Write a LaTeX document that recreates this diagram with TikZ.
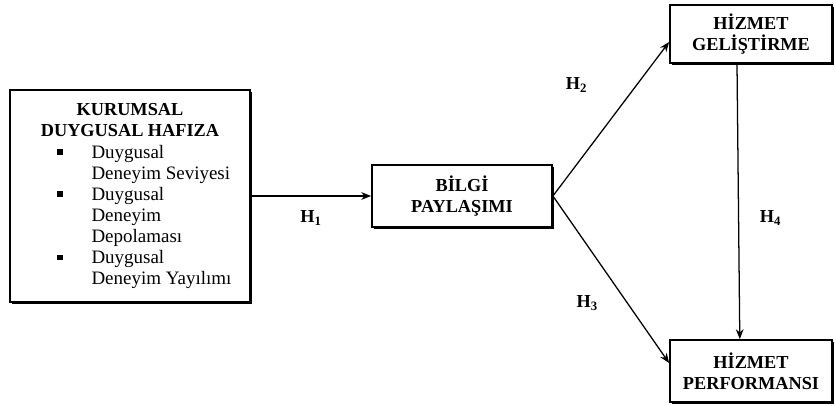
\documentclass[tikz,border=0pt]{standalone}
\usepackage{fontspec}
\setmainfont{Liberation Serif}
\usetikzlibrary{arrows.meta, shadows}

\begin{document}
\begin{tikzpicture}[
        ->,
        >={Stealth[length=7pt, width=5.5pt]},
        every node/.style={font=\fontsize{13.5}{15}\selectfont},
        kutu/.style={draw, line width=1.3pt, fill=white, align=center,
            font=\fontsize{13}{15}\selectfont\bfseries,
            drop shadow={shadow xshift=1.1pt, shadow yshift=-1.1pt, fill=black, opacity=1}},
        hip/.style={font=\fontsize{13}{14}\selectfont\bfseries}
    ]
    \useasboundingbox (0,0) rectangle (20.9,10.125);
    \node[kutu, font=\fontsize{13.5}{15}\selectfont, minimum width=6cm, minimum height=5.3cm] (kdh) at (3.25, 5.225) {%
        \begin{tabular}{@{\hspace{0.72cm}}l@{\hspace{0.72cm}}l@{}}
            \multicolumn{2}{@{}c@{}}{\fontsize{13}{15}\selectfont\textbf{KURUMSAL}}\\
            \multicolumn{2}{@{}c@{}}{\fontsize{13}{15}\selectfont\textbf{DUYGUSAL HAFIZA}}\\
            \rule[2.5pt]{3.8pt}{3.8pt} & Duygusal\\
             & Deneyim Seviyesi\\
            \rule[2.5pt]{3.8pt}{3.8pt} & Duygusal\\
             & Deneyim\\
             & Depolaması\\
            \rule[2.5pt]{3.8pt}{3.8pt} & Duygusal\\
             & Deneyim Yayılımı
        \end{tabular}};
    \node[kutu, minimum width=4.5cm, minimum height=1.55cm] (bilgi) at (11.55, 5.225) {BİLGİ\\PAYLAŞIMI};
    \node[kutu, minimum width=4.05cm, minimum height=1.45cm] (gel) at (18.775, 9.275) {HİZMET\\GELİŞTİRME};
    \node[kutu, minimum width=4.05cm, minimum height=1.55cm] (perf) at (18.775, 0.85) {HİZMET\\PERFORMANSI};
    \path[line width=0.9pt]
        (kdh) edge node[hip, yshift=-0.55cm] {H\textsubscript{1}} (bilgi)
        (bilgi.east) edge node[hip, pos=0.72, xshift=-1.5cm] {H\textsubscript{2}} ([yshift=-0.2cm]gel.west)
        (bilgi.east) edge node[hip, pos=0.64, xshift=-1cm] {H\textsubscript{3}} ([yshift=0.2cm]perf.west)
        ([xshift=-0.35cm]gel.south) edge node[hip, pos=0.56, xshift=0.8cm] {H\textsubscript{4}} ([xshift=-0.28cm]perf.north);
\end{tikzpicture}
\end{document}
